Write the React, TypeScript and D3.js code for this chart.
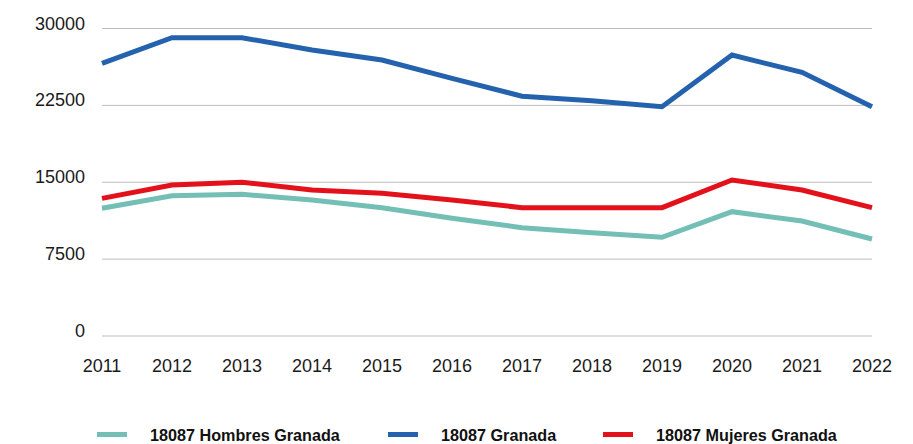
import React, { useRef, useEffect } from 'react';
import * as d3 from 'd3';

// Years on the x axis
const years = ['2011', '2012', '2013', '2014', '2015', '2016', '2017', '2018', '2019', '2020', '2021', '2022'];

// Series values
const hombres = [12460, 13690, 13820, 13270, 12520, 11480, 10570, 10080, 9630, 12130, 11220, 9460];
const total = [26600, 29100, 29100, 27900, 26930, 25140, 23400, 22960, 22370, 27410, 25720, 22370];
const mujeres = [13430, 14730, 15000, 14240, 13920, 13270, 12520, 12520, 12520, 15220, 14240, 12520];

const yTicks = [0, 7500, 15000, 22500, 30000];

const seriesNames = ['18087 Hombres Granada', '18087 Granada', '18087 Mujeres Granada'];
const seriesColors = ['#74bfb5', '#2562ae', '#e3111c'];

const App = () => {
    const svgRef = useRef<SVGSVGElement | null>(null);

    useEffect(() => {
        const svg = d3.select(svgRef.current);
        svg.selectAll('*').remove(); // Clear previous drawings

        const font = '"Liberation Sans", Arial, Helvetica, sans-serif';

        // Scales
        const x = d3.scalePoint<string>()
            .domain(years)
            .range([102, 872]);

        const y = d3.scaleLinear()
            .domain([0, 30000])
            .range([336, 28.5]);

        // Gridlines
        svg.append('g')
            .selectAll('line')
            .data(yTicks)
            .enter()
            .append('line')
            .attr('x1', 102)
            .attr('x2', 872)
            .attr('y1', d => y(d))
            .attr('y2', d => y(d))
            .attr('stroke', '#bdbdbd')
            .attr('stroke-width', 1);

        // Y labels
        svg.append('g')
            .selectAll('text')
            .data(yTicks)
            .enter()
            .append('text')
            .attr('x', 85)
            .attr('y', d => y(d) + 1)
            .attr('text-anchor', 'end')
            .attr('font-family', font)
            .attr('font-size', 18)
            .attr('fill', '#1a1a1a')
            .text(d => String(d));

        // X labels
        svg.append('g')
            .selectAll('text')
            .data(years)
            .enter()
            .append('text')
            .attr('x', d => x(d) as number)
            .attr('y', 372)
            .attr('text-anchor', 'middle')
            .attr('font-family', font)
            .attr('font-size', 18)
            .attr('fill', '#1a1a1a')
            .text(d => d);

        // Lines
        const line = d3.line<number>()
            .x((_, i) => x(years[i]) as number)
            .y(d => y(d));

        [hombres, total, mujeres].forEach((values, i) => {
            svg.append('path')
                .datum(values)
                .attr('d', line)
                .attr('fill', 'none')
                .attr('stroke', seriesColors[i])
                .attr('stroke-width', 5);
        });

        // Legend
        const legendX = [97, 388, 603];
        const legend = svg.append('g').attr('class', 'legend');
        seriesNames.forEach((name, i) => {
            legend.append('rect')
                .attr('x', legendX[i])
                .attr('y', 432)
                .attr('width', 30)
                .attr('height', 5)
                .attr('fill', seriesColors[i]);

            legend.append('text')
                .attr('x', legendX[i] + 53)
                .attr('y', 441)
                .attr('font-family', font)
                .attr('font-size', 16.2)
                .attr('font-weight', 'bold')
                .attr('fill', '#111')
                .text(name);
        });
    }, []);

    return (
        <div style={{ position: 'absolute', left: 0, top: 0, background: '#fff' }}>
            <svg ref={svgRef} width={913} height={444} style={{ display: 'block' }} />
        </div>
    );
};

export default App;
